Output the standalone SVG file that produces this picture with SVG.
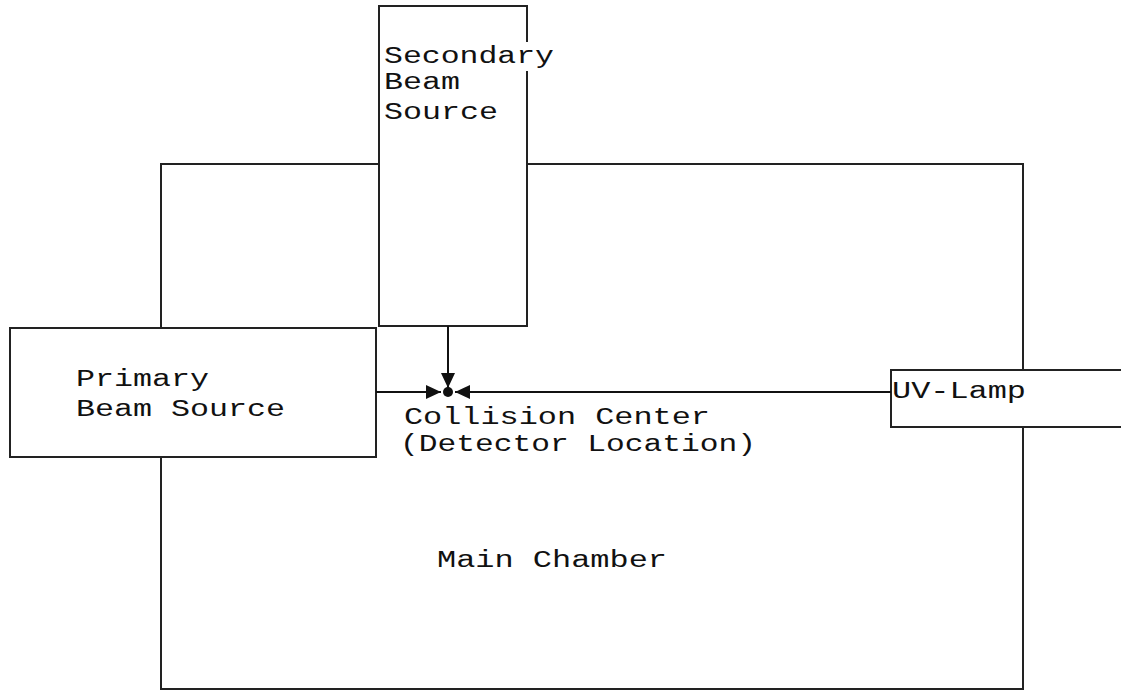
<svg xmlns="http://www.w3.org/2000/svg" width="1121" height="690" viewBox="0 0 1121 690">
<defs>
<style>
.box{fill:#fff;stroke:#222;stroke-width:2}
.lbl{font-family:"Liberation Mono","Courier New",monospace;font-size:23px;fill:#111}
.conn{stroke:#111;stroke-width:2;fill:none}
</style>
<marker id="arr" viewBox="0 0 15 14" refX="15" refY="7" markerWidth="15" markerHeight="14" markerUnits="userSpaceOnUse" orient="auto">
<path d="M0,0 L15,7 L0,14 Z" fill="#111"/>
</marker>
</defs>
<rect width="1121" height="690" fill="#fff"/>
<g id="main-chamber">
<rect class="box" x="161" y="164" width="862" height="525"/>
<text class="lbl" x="437" y="567" textLength="230" lengthAdjust="spacingAndGlyphs">Main Chamber</text>
</g>
<g id="secondary-beam-source">
<rect class="box" x="379" y="6" width="148" height="320"/>
<rect x="383" y="42" width="172" height="29" fill="#fff"/>
<text class="lbl" x="384" y="63" textLength="170" lengthAdjust="spacingAndGlyphs">Secondary</text>
<text class="lbl" x="384" y="89" textLength="76" lengthAdjust="spacingAndGlyphs">Beam</text>
<text class="lbl" x="384" y="119" textLength="114" lengthAdjust="spacingAndGlyphs">Source</text>
</g>
<g id="primary-beam-source">
<rect class="box" x="10" y="328" width="366" height="129"/>
<text class="lbl" x="76" y="386" textLength="133" lengthAdjust="spacingAndGlyphs">Primary</text>
<text class="lbl" x="76" y="416" textLength="209" lengthAdjust="spacingAndGlyphs">Beam Source</text>
</g>
<g id="uv-lamp">
<rect class="box" x="891" y="370" width="240" height="57"/>
<text class="lbl" x="892" y="398" textLength="134" lengthAdjust="spacingAndGlyphs">UV-Lamp</text>
</g>
<g id="connectors">
<line class="conn" x1="376" y1="392" x2="441" y2="392" marker-end="url(#arr)"/>
<line class="conn" x1="891" y1="392" x2="455" y2="392" marker-end="url(#arr)"/>
<line class="conn" x1="448" y1="326" x2="448" y2="388" marker-end="url(#arr)"/>
<circle cx="448" cy="392" r="5" fill="#111"/>
</g>
<g id="collision-center">
<text class="lbl" x="404" y="424" textLength="306" lengthAdjust="spacingAndGlyphs">Collision Center</text>
<text class="lbl" x="400" y="451" textLength="356" lengthAdjust="spacingAndGlyphs">(Detector Location)</text>
</g>
</svg>
